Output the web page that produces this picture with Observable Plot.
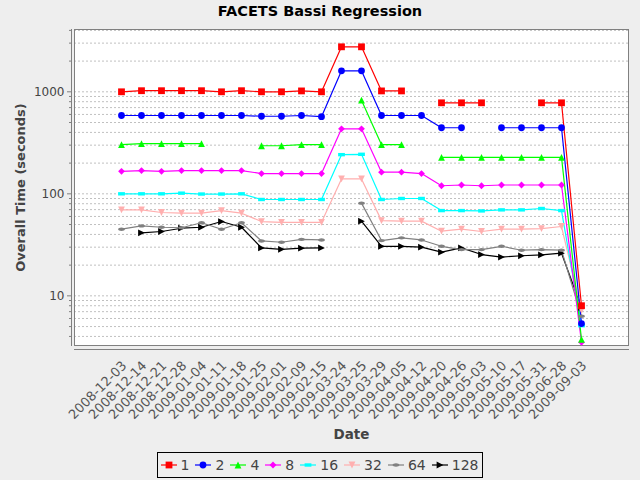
<!DOCTYPE html>
<html><head><meta charset="utf-8">
<script src="https://cdn.jsdelivr.net/npm/d3@7"></script>
<script src="https://cdn.jsdelivr.net/npm/@observablehq/plot@0.6"></script>
<style>
html,body{margin:0;padding:0;background:#eeeeee;width:640px;height:480px;overflow:hidden;font-family:"DejaVu Sans",sans-serif;}
#title{height:22px;line-height:22px;text-align:center;font-weight:bold;font-size:14.5px;color:#000;}
#chart svg{display:block;background:transparent;}
#legendWrap{text-align:center;margin-top:4px;}
#legend{display:inline-flex;align-items:center;height:24px;border:1px solid #000;padding:0 4px 0 3px;font-size:14px;color:#444;}
.item{display:inline-flex;align-items:center;margin-right:6px;}
.item:last-child{margin-right:0;}
.item svg{margin-right:4px;display:block;}
</style></head><body>
<div id="title">FACETS Bassi Regression</div>
<div id="chart"></div>
<div id="legendWrap"><div id="legend"></div></div>
<script>
const dates = ["2008-12-03","2008-12-14","2008-12-21","2008-12-28","2009-01-04","2009-01-11","2009-01-18","2009-01-25","2009-02-01","2009-02-09","2009-02-15","2009-03-24","2009-03-25","2009-03-29","2009-04-05","2009-04-12","2009-04-20","2009-04-26","2009-05-03","2009-05-10","2009-05-17","2009-05-31","2009-06-28","2009-09-03"];
const t1   = [1000,1025,1025,1025,1025,1000,1025,1000,1000,1020,1000,2760,2760,1020,1020,null,780,780,780,null,null,780,780,8.0];
const t2   = [586,586,586,586,586,586,586,576,576,586,570,1607,1607,586,586,586,444,444,null,444,444,444,444,5.35];
const t4   = [303,310,310,310,310,null,null,296,296,303,303,null,828,303,303,null,228,228,228,228,228,228,228,3.75];
const t8   = [166,169,166,169,169,169,169,158,158,158,158,434,434,163,163,158,120,122,120,122,122,122,122,3.5];
const t16  = [100,100,100,101.5,99.5,99.5,100,88,88,88,88,242,244,88,90,90,68.5,68.5,68,69.6,69.6,71.8,68.5,5.1];
const t32  = [69.6,69.6,65.6,64.6,64.6,68.5,64.6,53.5,52.5,52.5,52.5,140,140,54.6,54,54,43,45,42.7,45,45,45.6,47.8,7.2];
const t64  = [45,48.5,47,46.5,52,45,52,34.5,33.5,35.8,35.3,null,81,34.8,37,35.3,30.6,28.4,28.4,30.6,28,28.4,28,6.3];
const t128 = [null,41.5,42.7,46,47,53.5,47,29.5,28.6,29.3,29.5,null,53.9,30.6,30.6,30,26.8,29.5,25.4,24,24.7,25.2,26.2,7.7];
const seriesNames = ["1","2","4","8","16","32","64","128"];
const seriesValues = [t1,t2,t4,t8,t16,t32,t64,t128];
const seriesColors = ["#ff0000","#0000ff","#00ff00","#ff00ff","#00ffff","#ffafaf","#808080","#000000"];
const majorTicks = [10,100,1000];
const yDomain = [3.26, 4080];

const D = 3.4, K = 0.5523;
const shapes = [
  {draw(c){c.rect(-D,-D,2*D,2*D);}},
  {draw(c){c.moveTo(D,0);c.arc(0,0,D,0,2*Math.PI);}},
  {draw(c){c.moveTo(0,-D);c.lineTo(D,D);c.lineTo(-D,D);c.closePath();}},
  {draw(c){c.moveTo(0,-D);c.lineTo(D,0);c.lineTo(0,D);c.lineTo(-D,0);c.closePath();}},
  {draw(c){c.rect(-D,-D/2,2*D,D);}},
  {draw(c){c.moveTo(-D,-D);c.lineTo(D,-D);c.lineTo(0,D);c.closePath();}},
  {draw(c){const rx=D,ry=D/2;c.moveTo(rx,0);c.bezierCurveTo(rx,ry*K,rx*K,ry,0,ry);c.bezierCurveTo(-rx*K,ry,-rx,ry*K,-rx,0);c.bezierCurveTo(-rx,-ry*K,-rx*K,-ry,0,-ry);c.bezierCurveTo(rx*K,-ry,rx,-ry*K,rx,0);c.closePath();}},
  {draw(c){c.moveTo(-D,-D);c.lineTo(D,0);c.lineTo(-D,D);c.closePath();}}
];

const gridTicks = [];
for (const dec of [1,10,100,1000]) for (let m=1;m<=9;m++){const v=m*dec; if(v>=yDomain[0]&&v<=yDomain[1]) gridTicks.push(v);}
const minorTicks = gridTicks.filter(v => !majorTicks.includes(v));

const rowsBySeries = seriesNames.map((name,i)=>dates.map((d,j)=>({date:d, value: seriesValues[i][j]==null?NaN:seriesValues[i][j], series:name})));
const order = seriesNames.map((_,i)=>i).reverse();

const chart = Plot.plot({
  width: 640, height: 426,
  marginLeft: 74, marginRight: 12, marginTop: 7, marginBottom: 103,
  style: {fontFamily: "DejaVu Sans, sans-serif", fontSize: "12px", color: "#444", background: "transparent"},
  x: {type: "point", domain: dates, padding: 1.72, axis: null},
  y: {type: "log", domain: yDomain, axis: null},
  marks: [
    Plot.frame({fill: "white", stroke: null}),
    Plot.gridY(gridTicks, {stroke: "#c0c0c0", strokeOpacity: 1, strokeDasharray: "2,2"}),
    Plot.frame({stroke: "#808080"}),
    Plot.frame({anchor: "left", dx: -3, stroke: "#808080"}),
    Plot.frame({anchor: "bottom", dy: 4, stroke: "#808080"}),
    Plot.axisY(majorTicks, {tickSize: 4, tickPadding: 3, dx: -3, tickFormat: d => String(d), stroke: "#808080", fill: "#444", fontSize: 12, label: null}),
    Plot.axisY(minorTicks, {tickSize: 2, dx: -3, tickFormat: () => "", stroke: "#808080", label: null}),
    Plot.text(dates, {x: d => d, frameAnchor: "bottom", rotate: -45, textAnchor: "end", lineAnchor: "middle", dx: 3, dy: 18, fontSize: 13, fill: "#555"}),
    Plot.text(["Overall Time (seconds)"], {frameAnchor: "left", textAnchor: "middle", rotate: -90, dx: -54, fontWeight: "bold", fontSize: 13, fill: "#444"}),
    Plot.text(["Date"], {frameAnchor: "bottom", dy: 93, fontWeight: "bold", fontSize: 13.5, fill: "#444"}),
    ...order.map(i => Plot.line(rowsBySeries[i], {x: "date", y: "value", stroke: seriesColors[i], strokeWidth: 1.2})),
    ...order.map(i => Plot.dot(rowsBySeries[i], {x: "date", y: "value", fill: seriesColors[i], stroke: "none", symbol: shapes[i]}))
  ]
});
document.getElementById("chart").appendChild(chart);

const legend = document.getElementById("legend");
seriesNames.forEach((name,i)=>{
  const item = document.createElement("span"); item.className = "item";
  const p = d3.path(); shapes[i].draw(p);
  item.innerHTML = `<svg width="16" height="16" viewBox="-8 -8 16 16"><line x1="-8" x2="8" y1="0" y2="0" stroke="${seriesColors[i]}" stroke-width="1.2"/><path d="${p.toString()}" fill="${seriesColors[i]}"/></svg><span>${name}</span>`;
  legend.appendChild(item);
});
</script>
</body></html>
